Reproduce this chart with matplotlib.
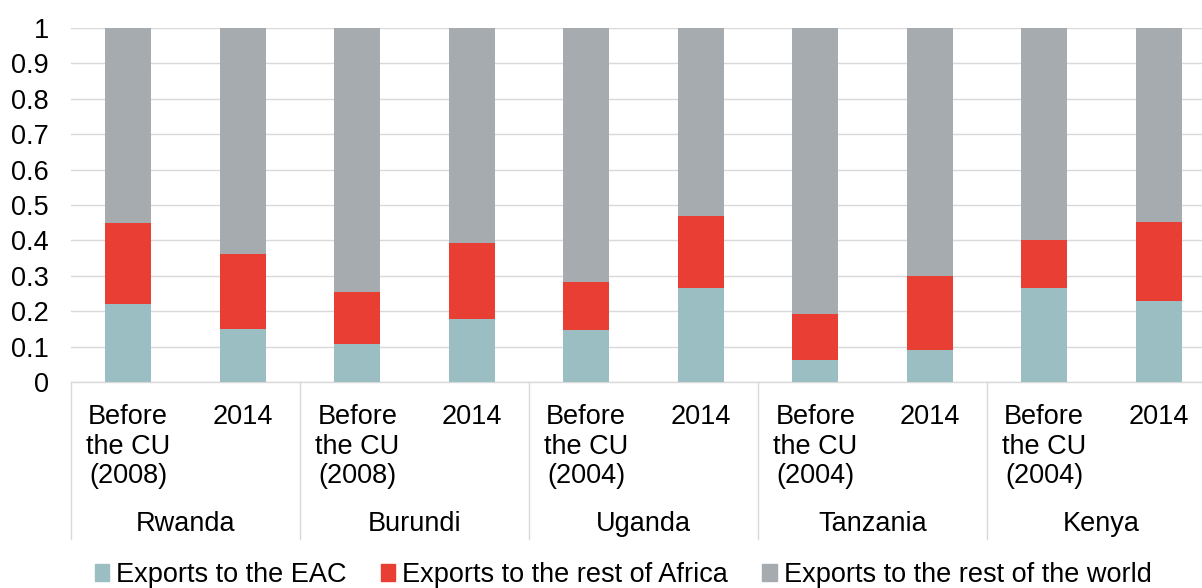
import matplotlib.pyplot as plt
from matplotlib.patches import Patch
from matplotlib.transforms import blended_transform_factory

plt.rcParams['font.family'] = ['Liberation Sans', 'DejaVu Sans']

countries = ['Rwanda', 'Burundi', 'Uganda', 'Tanzania', 'Kenya']
before_years = ['2008', '2008', '2004', '2004', '2004']

# shares, two bars per country (before CU, 2014)
eac = [0.221, 0.151, 0.106, 0.178, 0.148, 0.266, 0.063, 0.090, 0.265, 0.229]
rest_africa = [0.228, 0.211, 0.147, 0.216, 0.135, 0.202, 0.128, 0.210, 0.137, 0.224]
rest_world = [1 - a - b for a, b in zip(eac, rest_africa)]

series_names = ['Exports to the EAC', 'Exports to the rest of Africa',
                'Exports to the rest of the world']
colors = ['#9BBEC2', '#E83E33', '#A5ABAF']

FS = 19.5
W, H = 1202, 588
fig = plt.figure(figsize=(W / 100, H / 100), dpi=100)
ax = fig.add_axes([71 / W, 1 - 382 / H, (1216 - 71) / W, (382 - 28) / H])

x = list(range(len(eac)))
bottom = [0] * len(eac)
for vals, col in zip([eac, rest_africa, rest_world], colors):
    ax.bar(x, vals, width=0.4, bottom=bottom, color=col, zorder=3)
    bottom = [b + v for b, v in zip(bottom, vals)]

ax.set_xlim(-0.5, len(eac) - 0.5)
ax.set_ylim(0, 1)
ax.set_yticks([i / 10 for i in range(11)])
ax.set_yticklabels(['0'] + ['0.%d' % i for i in range(1, 10)] + ['1'])
ax.yaxis.grid(True, color='#D9D9D9', lw=1)
ax.set_axisbelow(True)
for s in ['top', 'right', 'left']:
    ax.spines[s].set_visible(False)
ax.spines['bottom'].set_color('#D9D9D9')
ax.spines['bottom'].set_linewidth(1)

labels = []
for yr in before_years:
    labels += ['Before\nthe CU\n(%s)' % yr, '2014']
ax.set_xticks(x)
ax.set_xticklabels(labels, fontsize=FS, linespacing=1.18)
ax.tick_params(axis='x', length=0, pad=16)
ax.tick_params(axis='y', length=0, pad=16, labelsize=FS)

trans = blended_transform_factory(ax.transData, ax.transAxes)
for i, c in enumerate(countries):
    ax.text(2 * i + 0.5, -0.402, c, transform=trans, ha='center', va='center', fontsize=FS)
for i in range(len(countries) + 1):
    ax.plot([2 * i - 0.5] * 2, [0, -0.4435], transform=trans, color='#D9D9D9',
            lw=1, clip_on=False)

handles = [Patch(color=c) for c in colors]
fig.legend(handles, series_names, loc='center', bbox_to_anchor=(623 / W, 1 - 575 / H),
           ncol=3, frameon=False, fontsize=FS, handlelength=0.55, handleheight=0.55,
           handletextpad=0.25, columnspacing=1.25, borderpad=0)

fig.savefig('out.png', dpi=100)
